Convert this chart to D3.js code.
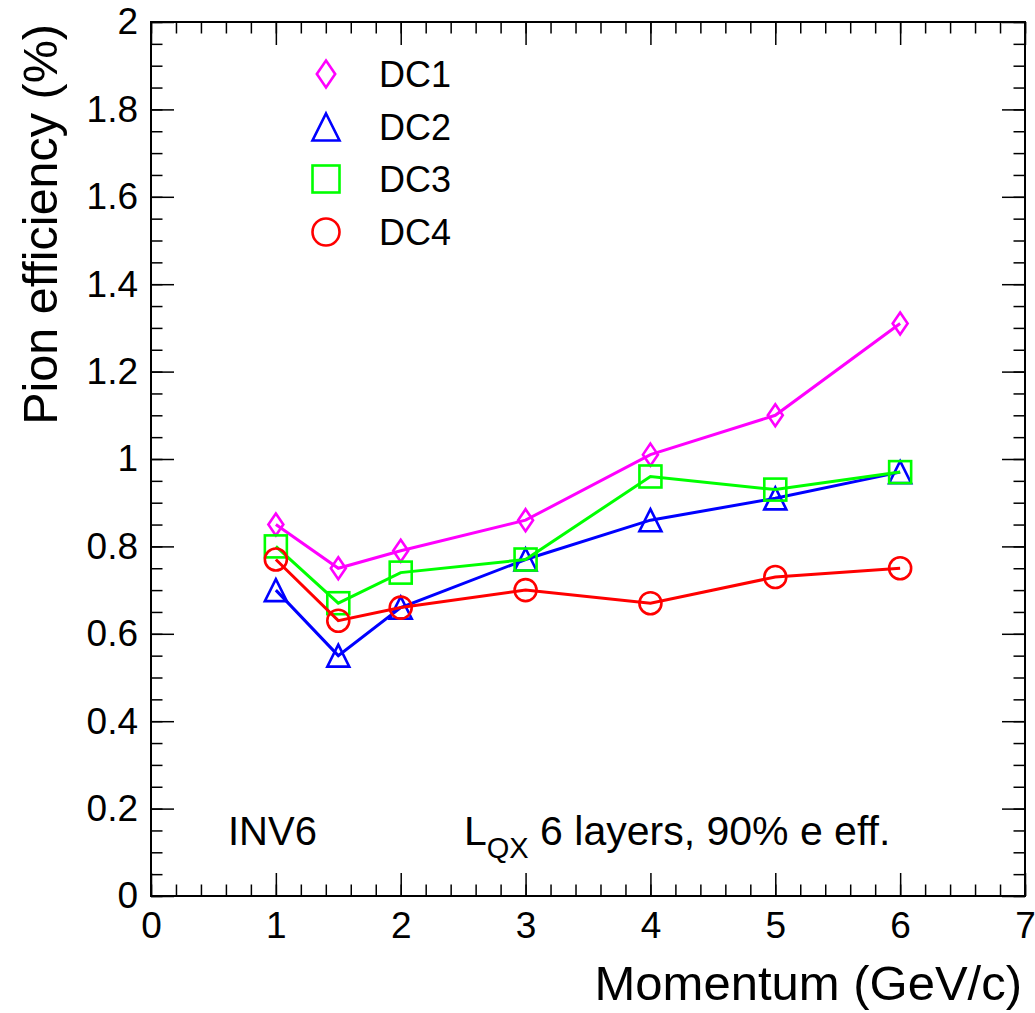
<!doctype html>
<html>
<head>
<title>Pion efficiency</title>
<script src="https://d3js.org/d3.v7.min.js"></script>
<style>
body { margin: 0; background: #fff; }
svg { font-family: 'Liberation Sans', Arial, Helvetica, sans-serif; }
</style>
</head>
<body>
<div id="chart"></div>
<script>
// data
var momentum = [1, 1.5, 2, 3, 4, 5, 6];
var dc1 = [0.85, 0.75, 0.79, 0.86, 1.01, 1.10, 1.31];
var dc2 = [0.70, 0.55, 0.66, 0.77, 0.86, 0.91, 0.97];
var dc3 = [0.80, 0.67, 0.74, 0.77, 0.96, 0.93, 0.97];
var dc4 = [0.77, 0.63, 0.66, 0.70, 0.67, 0.73, 0.75];
var seriesNames = ["DC1", "DC2", "DC3", "DC4"];
var seriesColors = ["#ff00ff", "#0000ff", "#00ff00", "#ff0000"];
var seriesShapes = ["diamond", "triangle", "square", "circle"];
var xMajor = [0, 1, 2, 3, 4, 5, 6, 7];
var yMajor = [0, 0.2, 0.4, 0.6, 0.8, 1, 1.2, 1.4, 1.6, 1.8, 2];

var width = 1035, height = 1013;
var frameL = 151, frameR = 1025, frameT = 22, frameB = 896;

var svg = d3.select("#chart").append("svg")
  .attr("width", width).attr("height", height);

var x = d3.scaleLinear().domain([0, 7]).range([frameL, frameR]);
var y = d3.scaleLinear().domain([0, 2]).range([frameB, frameT]);

var xMinor = d3.range(0, 7.001, 0.2).map(function(d){ return +d.toFixed(2); });
var yMinor = d3.range(0, 2.001, 0.05).map(function(d){ return +d.toFixed(2); });

function styleAxis(g) {
  g.select(".domain").remove();
  g.selectAll(".tick line").attr("stroke", "#000").attr("stroke-width", 1.5);
}

// bottom
svg.append("g").attr("transform", "translate(0," + frameB + ")")
  .call(d3.axisBottom(x).tickValues(xMinor).tickSize(-11.5).tickFormat(""))
  .call(styleAxis);
svg.append("g").attr("transform", "translate(0," + frameB + ")")
  .call(d3.axisBottom(x).tickValues(xMajor).tickSize(-23).tickPadding(16).tickFormat(d3.format("d")))
  .call(styleAxis)
  .selectAll("text").attr("font-size", 37).attr("fill", "#000");
// top
svg.append("g").attr("transform", "translate(0," + frameT + ")")
  .call(d3.axisTop(x).tickValues(xMinor).tickSize(-11.5).tickFormat(""))
  .call(styleAxis);
svg.append("g").attr("transform", "translate(0," + frameT + ")")
  .call(d3.axisTop(x).tickValues(xMajor).tickSize(-23).tickFormat(""))
  .call(styleAxis);
// left
svg.append("g").attr("transform", "translate(" + frameL + ",0)")
  .call(d3.axisLeft(y).tickValues(yMinor).tickSize(-11.5).tickFormat(""))
  .call(styleAxis);
svg.append("g").attr("transform", "translate(" + frameL + ",0)")
  .call(d3.axisLeft(y).tickValues(yMajor).tickSize(-23).tickPadding(13).tickFormat(function(d){ return String(+d.toFixed(1)); }))
  .call(styleAxis)
  .selectAll("text").attr("font-size", 37).attr("fill", "#000");
// right
svg.append("g").attr("transform", "translate(" + frameR + ",0)")
  .call(d3.axisRight(y).tickValues(yMinor).tickSize(-11.5).tickFormat(""))
  .call(styleAxis);
svg.append("g").attr("transform", "translate(" + frameR + ",0)")
  .call(d3.axisRight(y).tickValues(yMajor).tickSize(-23).tickFormat(""))
  .call(styleAxis);

// frame
svg.append("rect")
  .attr("x", frameL).attr("y", frameT)
  .attr("width", frameR - frameL).attr("height", frameB - frameT)
  .attr("fill", "none").attr("stroke", "#000").attr("stroke-width", 2);

// markers
function marker(g, shape, cx, cy, s, color) {
  var h = s / 2;
  if (shape == "circle") {
    g.append("circle").attr("cx", cx).attr("cy", cy).attr("r", h)
      .attr("fill", "none").attr("stroke", color).attr("stroke-width", 2.6);
  } else if (shape == "square") {
    g.append("rect").attr("x", cx - h).attr("y", cy - h).attr("width", s).attr("height", s)
      .attr("fill", "none").attr("stroke", color).attr("stroke-width", 2.6);
  } else if (shape == "triangle") {
    g.append("path").attr("d", "M" + cx + "," + (cy - h) + "L" + (cx + h) + "," + (cy + h) + "L" + (cx - h) + "," + (cy + h) + "Z")
      .attr("fill", "none").attr("stroke", color).attr("stroke-width", 2.6);
  } else {
    var w = h * 0.68;
    g.append("path").attr("d", "M" + cx + "," + (cy - h) + "L" + (cx + w) + "," + cy + "L" + cx + "," + (cy + h) + "L" + (cx - w) + "," + cy + "Z")
      .attr("fill", "none").attr("stroke", color).attr("stroke-width", 2.6);
  }
}

var line = d3.line()
  .x(function(d){ return x(d[0]); })
  .y(function(d){ return y(d[1]); });

[dc1, dc2, dc3, dc4].forEach(function(vals, i) {
  var pts = momentum.map(function(m, j){ return [m, vals[j]]; });
  var g = svg.append("g");
  g.append("path").datum(pts).attr("d", line)
    .attr("fill", "none").attr("stroke", seriesColors[i]).attr("stroke-width", 3);
  pts.forEach(function(p) {
    marker(g, seriesShapes[i], x(p[0]), y(p[1]), 22, seriesColors[i]);
  });
});

// legend
var legY = [74, 127, 179, 232];
seriesNames.forEach(function(name, i) {
  marker(svg, seriesShapes[i], 326, legY[i], 27, seriesColors[i]);
  svg.append("text").attr("x", 379).attr("y", legY[i] + 13)
    .attr("font-size", 36).text(name);
});

// annotations
svg.append("text").attr("x", 228).attr("y", 845).attr("font-size", 40).text("INV6");
var lt = svg.append("text").attr("x", 464).attr("y", 845).attr("font-size", 41);
lt.append("tspan").text("L");
lt.append("tspan").attr("font-size", 29).attr("dy", 13).text("QX");
lt.append("tspan").attr("dy", -13).text(" 6 layers, 90% e eff.");

// axis titles
svg.append("text").attr("x", 1022).attr("y", 1000).attr("text-anchor", "end")
  .attr("font-size", 49).text("Momentum (GeV/c)");
svg.append("text").attr("transform", "translate(57," + (frameT + 2) + ") rotate(-90)")
  .attr("text-anchor", "end").attr("font-size", 48.5).text("Pion efficiency (%)");
</script>
</body>
</html>
